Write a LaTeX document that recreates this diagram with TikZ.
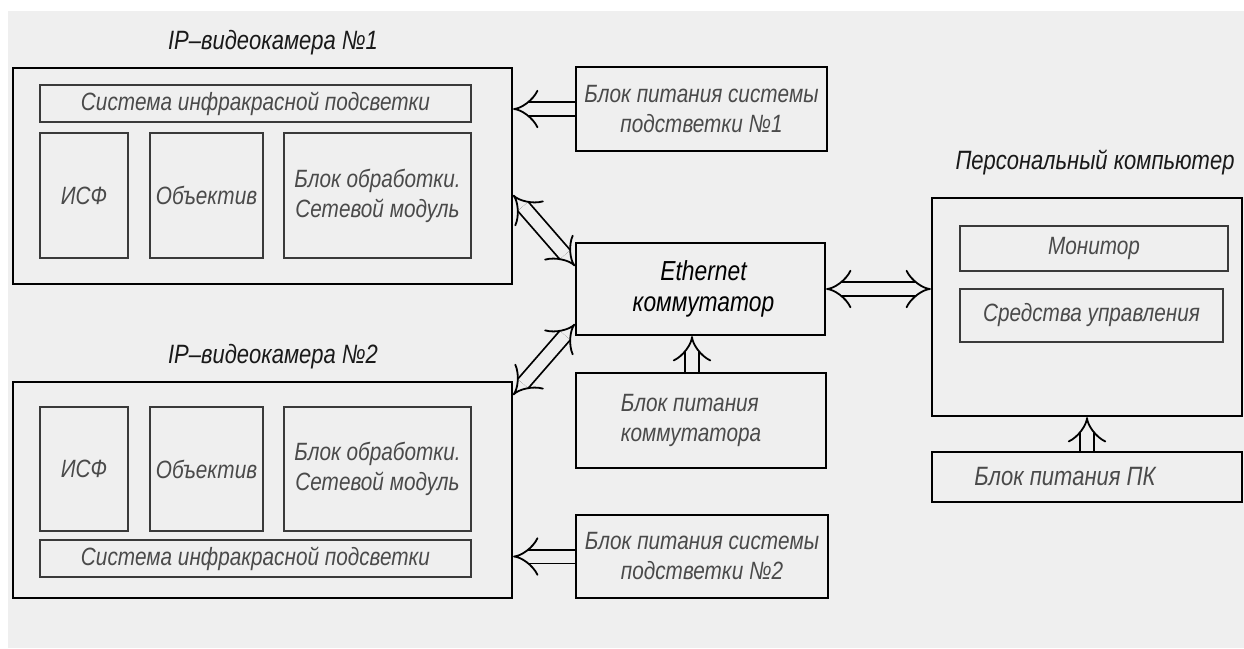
\documentclass[tikz,border=0pt]{standalone}
\usepackage{fontspec}
\setmainfont{Liberation Sans}[FakeStretch=0.83]
\usetikzlibrary{arrows.meta,fit}
\definecolor{bg}{HTML}{EFEFEF}
\definecolor{txtgray}{HTML}{4A4A4A}
\definecolor{thin}{HTML}{3A3A3A}
\tikzset{
  outerbox/.style={draw=black, line width=2.2pt, inner sep=0pt, align=center},
  innerbox/.style={draw=thin, line width=1.2pt, inner sep=0pt, align=center, text=txtgray},
  title/.style={text=black!90, font=\fontsize{26.5}{31}\selectfont\itshape},
  ttxt/.style={font=\fontsize{25}{30}\selectfont\itshape},
  dbl/.style={double=bg, double distance=12pt, line width=1.8pt, -{Implies[length=13pt, width=28pt]}},
  dbl2/.style={double=bg, double distance=12pt, line width=1.8pt, {Implies[length=13pt, width=28pt]}-{Implies[length=13pt, width=28pt]}},
}
\begin{document}
\begin{tikzpicture}[x=1pt,y=-1pt]
\useasboundingbox (0,0) rectangle (1244,648);
\fill[white] (0,0) rectangle (1244,648);
\fill[bg] (8,11) rectangle (1244,648);

% camera 1
\node[outerbox, fit={(13,68) (512,284)}] (cam1) {};
\node[title] (t1) at (273,43) {IP–видеокамера №1};
\node[innerbox, ttxt, fit={(40,85) (471,122)}] (ir1) {};
\node[ttxt, text=txtgray] at (ir1.center) {Система инфракрасной подсветки};
\node[innerbox, fit={(40,133) (128,258)}] (isf1) {};
\node[ttxt, text=txtgray] at (isf1.center) {ИСФ};
\node[innerbox, fit={(150,133) (263,258)}] (obj1) {};
\node[ttxt, text=txtgray] at (obj1.center) {Объектив};
\node[innerbox, fit={(284,133) (471,258)}] (proc1) {};
\node[ttxt, text=txtgray, align=center] at (proc1.center) {Блок обработки.\\Сетевой модуль};

% camera 2
\node[outerbox, fit={(13,382) (512,598)}] (cam2) {};
\node[title] (t2) at (273,357) {IP–видеокамера №2};
\node[innerbox, fit={(40,407) (128,531)}] (isf2) {};
\node[ttxt, text=txtgray] at (isf2.center) {ИСФ};
\node[innerbox, fit={(150,407) (263,531)}] (obj2) {};
\node[ttxt, text=txtgray] at (obj2.center) {Объектив};
\node[innerbox, fit={(284,407) (471,531)}] (proc2) {};
\node[ttxt, text=txtgray, align=center] at (proc2.center) {Блок обработки.\\Сетевой модуль};
\node[innerbox, fit={(40,540) (471,577)}] (ir2) {};
\node[ttxt, text=txtgray] at (ir2.center) {Система инфракрасной подсветки};

% middle column
\node[outerbox, fit={(576,67) (827,151)}] (pw1) {};
\node[ttxt, text=txtgray, align=center] at (pw1.center) {Блок питания системы\\подстветки №1};
\node[outerbox, fit={(576,243) (825,335)}] (eth) {};
\node[text=black, align=center, font=\fontsize{27.5}{31}\selectfont\itshape] at ([xshift=3pt]eth.center) {Ethernet\\коммутатор};
\node[outerbox, fit={(576,373) (826,468)}] (pwsw) {};
\node[ttxt, text=txtgray, align=left] at ([xshift=-10pt]pwsw.center) {Блок питания\\коммутатора};
\node[outerbox, fit={(576,515) (828,598)}] (pw2) {};
\node[ttxt, text=txtgray, align=center] at (pw2.center) {Блок питания системы\\подстветки №2};

% PC
\node[outerbox, fit={(932,198) (1242,416)}] (pc) {};
\node[title] (tpc) at (1095,162) {Персональный компьютер};
\node[innerbox, fit={(960,226) (1228,271)}] (mon) {};
\node[ttxt, text=txtgray] at (mon.center) {Монитор};
\node[innerbox, fit={(960,289) (1223,342)}] (ctrl) {};
\node[ttxt, text=txtgray] at (ctrl.center) {Средства управления};
\node[outerbox, fit={(932,452) (1242,502)}] (pwpc) {};
\node[ttxt, text=txtgray, font=\fontsize{26.5}{30}\selectfont\itshape] at ([xshift=-22pt]pwpc.center) {Блок питания ПК};

% connectors
\draw[dbl] (pw1.west) -- (pw1.west -| cam1.east);
\draw[dbl] (pw2.west) -- (pw2.west -| cam2.east);
\draw[dbl2] (eth.east) -- (eth.east -| pc.west);
\draw[dbl] ([xshift=-9pt]pwsw.north) -- ([xshift=-9pt]pwsw.north |- eth.south);
\draw[dbl] (pwpc.north) -- (pwpc.north |- pc.south);
\draw[dbl2] ([yshift=-19pt]cam1.east) -- ([yshift=23pt]eth.west);
\draw[dbl2] ([yshift=95pt]cam2.east) -- ([yshift=-35pt]eth.west);
\end{tikzpicture}
\end{document}
